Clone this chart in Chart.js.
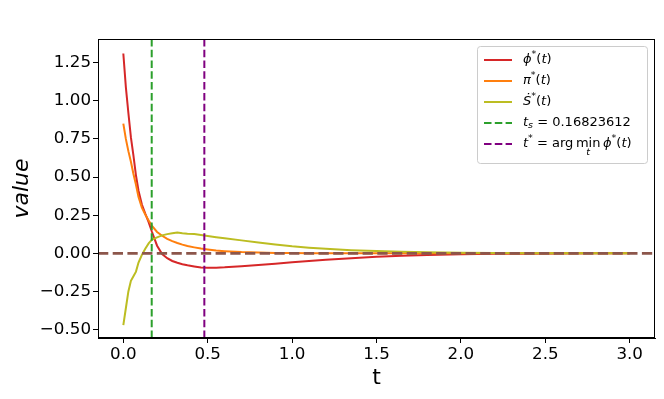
<!DOCTYPE html>
<html>
<head>
<meta charset="utf-8">
<script src="https://cdn.jsdelivr.net/npm/chart.js@4/dist/chart.umd.min.js"></script>
<style>
  html, body { margin: 0; padding: 0; background: #fff; }
  #wrap { width: 664px; height: 399px; }
</style>
</head>
<body>
<div id="wrap"><canvas id="chart" width="664" height="399"></canvas></div>
<script>
// time grid and the three optimal paths
const tValues = [0.0, 0.015, 0.03, 0.045, 0.06, 0.075, 0.09, 0.11, 0.13, 0.15, 0.17, 0.2, 0.23, 0.26, 0.29, 0.32, 0.35, 0.38, 0.42, 0.46, 0.5, 0.55, 0.6, 0.7, 0.8, 0.9, 1.0, 1.1, 1.2, 1.35, 1.5, 1.65, 1.8, 2.0, 2.2, 2.4, 2.6, 2.8, 3.0];
const phiStar = [1.31, 1.09, 0.92, 0.76, 0.64, 0.51, 0.41, 0.32, 0.26, 0.205, 0.14, 0.05, -0.005, -0.032, -0.05, -0.062, -0.071, -0.078, -0.086, -0.093, -0.095, -0.094, -0.092, -0.085, -0.077, -0.068, -0.059, -0.05, -0.042, -0.032, -0.023, -0.016, -0.011, -0.006, -0.003, -0.002, -0.001, 0.0, 0.0];
const piStar = [0.85, 0.75, 0.67, 0.6, 0.52, 0.45, 0.37, 0.30, 0.255, 0.215, 0.18, 0.14, 0.115, 0.095, 0.08, 0.068, 0.057, 0.048, 0.039, 0.031, 0.025, 0.018, 0.014, 0.008, 0.005, 0.003, 0.002, 0.001, 0.0, 0.0, 0.0, 0.0, 0.0, 0.0, 0.0, 0.0, 0.0, 0.0, 0.0];
const sDotStar = [-0.47, -0.36, -0.25, -0.18, -0.15, -0.12, -0.06, -0.01, 0.03, 0.065, 0.09, 0.105, 0.118, 0.126, 0.131, 0.136, 0.132, 0.129, 0.126, 0.12, 0.114, 0.106, 0.099, 0.085, 0.071, 0.058, 0.046, 0.037, 0.03, 0.021, 0.015, 0.011, 0.007, 0.004, 0.002, 0.001, 0.001, 0.0, 0.0];

const tS = 0.16823612;
const tStar = 0.48;

const xTicks = [0.0, 0.5, 1.0, 1.5, 2.0, 2.5, 3.0];
const yTicks = [-0.5, -0.25, 0.0, 0.25, 0.5, 0.75, 1.0, 1.25];
const xLimits = [-0.15, 3.15];
const yLimits = [-0.555, 1.405];

const FONT = '"DejaVu Sans", sans-serif';

function toPoints(ys) {
    return tValues.map((t, i) => ({ x: t, y: ys[i] }));
}

// legend entries: text split into styled pieces (mathtext look)
const legendItems = [
    { color: '#d62728', dash: [], parts: [['ϕ', 'i'], ['*', 'sup'], ['(', 'n'], ['t', 'i'], [')', 'n']] },
    { color: '#ff7f0e', dash: [], parts: [['π', 'i'], ['*', 'sup'], ['(', 'n'], ['t', 'i'], [')', 'n']] },
    { color: '#bcbd22', dash: [], parts: [['Ṡ', 'i'], ['*', 'sup'], ['(', 'n'], ['t', 'i'], [')', 'n']] },
    { color: '#2ca02c', dash: [7.5, 3.3], parts: [['t', 'i'], ['s', 'sub'], [' = 0.16823612', 'n']] },
    { color: '#800080', dash: [7.5, 3.3], parts: [['t', 'i'], ['*', 'sup'], [' = arg\u2009', 'n'], ['min', 'n'], ['t', 'under'], ['\u2009', 'n'], ['ϕ', 'i'], ['*', 'sup'], ['(', 'n'], ['t', 'i'], [')', 'n']] }
];

function drawRich(ctx, parts, x, y) {
    let prevX = x, prevW = 0;
    parts.forEach(([txt, style]) => {
        let font = '13px ' + FONT, dy = 0;
        if (style === 'i') font = 'italic 13px ' + FONT;
        if (style === 'sup') { font = '9.5px ' + FONT; dy = -5; }
        if (style === 'sub') { font = 'italic 9.5px ' + FONT; dy = 3; }
        if (style === 'under') { font = 'italic 9.5px ' + FONT; dy = 9; }
        ctx.font = font;
        const w = ctx.measureText(txt).width;
        if (style === 'under') {
            ctx.fillText(txt, prevX + (prevW - w) / 2, y + dy);
            return;
        }
        ctx.fillText(txt, x, y + dy);
        prevX = x; prevW = w;
        x += w;
    });
}

const framePlugin = {
    id: 'frame',
    afterDraw(chart) {
        const ctx = chart.ctx;
        const a = chart.chartArea;
        ctx.save();
        ctx.strokeStyle = '#000';
        ctx.lineWidth = 1;
        ctx.strokeRect(a.left + 0.5, a.top + 0.5, a.right - a.left - 1, a.bottom - a.top - 1);

        // legend box, upper right
        const bx = a.right - 178, by = a.top + 7, bw = 170, bh = 117;
        ctx.beginPath();
        ctx.roundRect(bx + 0.5, by + 0.5, bw, bh, 3);
        ctx.fillStyle = 'rgba(255,255,255,0.8)';
        ctx.fill();
        ctx.strokeStyle = '#cccccc';
        ctx.stroke();

        ctx.textBaseline = 'middle';
        ctx.fillStyle = '#000';
        legendItems.forEach((item, i) => {
            const y = by + 14 + i * 21;
            ctx.beginPath();
            ctx.setLineDash(item.dash);
            ctx.strokeStyle = item.color;
            ctx.lineWidth = 2;
            ctx.moveTo(bx + 7, y);
            ctx.lineTo(bx + 35, y);
            ctx.stroke();
            ctx.setLineDash([]);
            ctx.fillStyle = '#000';
            drawRich(ctx, item.parts, bx + 46, y);
        });
        ctx.restore();
    }
};

const dashed = [7.5, 3.3];

const ctx = document.getElementById('chart').getContext('2d');
new Chart(ctx, {
    type: 'line',
    data: {
        datasets: [
            {
                label: 'zero',
                data: [{ x: xLimits[0], y: 0 }, { x: xLimits[1], y: 0 }],
                borderColor: '#8c564b',
                borderWidth: 2.6,
                borderDash: [10.3, 4.4],
                order: 0
            },
            {
                label: 't*',
                data: [{ x: tStar, y: yLimits[0] }, { x: tStar, y: yLimits[1] }],
                borderColor: '#800080',
                borderWidth: 2,
                borderDash: dashed,
                order: 1
            },
            {
                label: 'ts',
                data: [{ x: tS, y: yLimits[0] }, { x: tS, y: yLimits[1] }],
                borderColor: '#2ca02c',
                borderWidth: 2,
                borderDash: dashed,
                order: 2
            },
            {
                label: 'Sdot*(t)',
                data: toPoints(sDotStar),
                borderColor: '#bcbd22',
                borderWidth: 2,
                order: 3
            },
            {
                label: 'pi*(t)',
                data: toPoints(piStar),
                borderColor: '#ff7f0e',
                borderWidth: 2,
                order: 4
            },
            {
                label: 'phi*(t)',
                data: toPoints(phiStar),
                borderColor: '#d62728',
                borderWidth: 2,
                order: 5
            }
        ]
    },
    options: {
        responsive: false,
        animation: false,
        devicePixelRatio: 1,
        layout: {
            padding: { top: 39, right: 9, left: 0, bottom: 0 }
        },
        elements: {
            point: { radius: 0 },
            line: { tension: 0, fill: false, borderCapStyle: 'butt' }
        },
        plugins: {
            legend: { display: false },
            tooltip: { enabled: false }
        },
        scales: {
            x: {
                type: 'linear',
                min: xLimits[0],
                max: xLimits[1],
                afterBuildTicks: (scale) => { scale.ticks = xTicks.map(v => ({ value: v })); },
                afterFit: (scale) => { scale.height = 61; },
                grid: { drawOnChartArea: false, drawTicks: true, tickLength: 5, color: '#000' },
                border: { display: true, color: '#000', width: 1 },
                ticks: {
                    color: '#000',
                    padding: 2,
                    font: { family: FONT, size: 16.7 },
                    maxRotation: 0,
                    callback: (v) => v.toFixed(1)
                },
                title: {
                    display: true,
                    text: 't',
                    color: '#000',
                    font: { family: FONT, size: 22 },
                    padding: { top: 0, bottom: 8 }
                }
            },
            y: {
                type: 'linear',
                min: yLimits[0],
                max: yLimits[1],
                afterBuildTicks: (scale) => { scale.ticks = yTicks.map(v => ({ value: v })); },
                afterFit: (scale) => { scale.width = 98; },
                grid: { drawOnChartArea: false, drawTicks: true, tickLength: 5, color: '#000' },
                border: { display: true, color: '#000', width: 1 },
                ticks: {
                    color: '#000',
                    padding: 2,
                    font: { family: FONT, size: 16.7 },
                    callback: (v) => (v < 0 ? '\u2212' + Math.abs(v).toFixed(2) : v.toFixed(2))
                },
                title: {
                    display: true,
                    text: 'value',
                    color: '#000',
                    font: { family: FONT, size: 22, style: 'italic' },
                    padding: { top: 9, bottom: 0 }
                }
            }
        }
    },
    plugins: [framePlugin]
});
</script>
</body>
</html>
